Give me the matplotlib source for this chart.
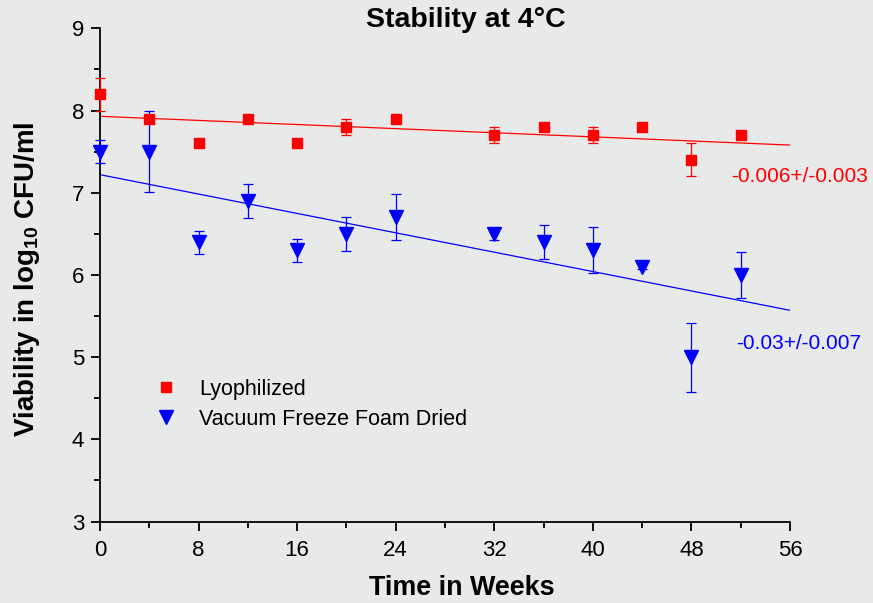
import matplotlib
matplotlib.use("Agg")
import matplotlib.pyplot as plt
from matplotlib.lines import Line2D

## Data
weeks = [0, 4, 8, 12, 16, 20, 24, 32, 36, 40, 44, 48, 52]

lyo_vals = [8.2, 7.9, 7.6, 7.9, 7.6, 7.8, 7.9, 7.7, 7.8, 7.7, 7.8, 7.4, 7.7]
lyo_err = [0.2, 0, 0, 0, 0, 0.1, 0, 0.1, 0, 0.1, 0, 0.2, 0]

vffd_vals = [7.5, 7.5, 6.4, 6.9, 6.3, 6.5, 6.7, 6.5, 6.4, 6.3, 6.1, 5.0, 6.0]
vffd_err = [0.14, 0.49, 0.14, 0.21, 0.14, 0.21, 0.28, 0.07, 0.21, 0.28, 0.03, 0.42, 0.28]

fit_x = [0, 56]
lyo_fit = [7.93, 7.58]
vffd_fit = [7.22, 5.57]

lyo_slope = "-0.006+/-0.003"
vffd_slope = "-0.03+/-0.007"

bg = "#e8e9e9"
red = '#ff0000'
blue = '#0000ff'
plt.rcParams['font.family'] = ['Liberation Sans', 'DejaVu Sans']
plt.rcParams['mathtext.fontset'] = 'custom'
plt.rcParams['mathtext.rm'] = 'Liberation Sans'
plt.rcParams['mathtext.bf'] = 'Liberation Sans:bold'

fig = plt.figure(figsize=(8.73, 6.03), dpi=100, facecolor=bg)
ax = fig.add_axes([0.1145, 0.135, 0.7905, 0.818])
ax.set_facecolor(bg)

## fitted lines
ax.plot(fit_x, lyo_fit, color=red, lw=0.9)
ax.plot(fit_x, vffd_fit, color=blue, lw=0.9)

## data with error bars
ax.errorbar(weeks, lyo_vals, yerr=lyo_err, fmt='s', color=red, ms=7.5,
            elinewidth=0.9, capsize=3.3, capthick=0.9, clip_on=False, zorder=3)
ax.errorbar(weeks, vffd_vals, yerr=vffd_err, fmt='v', color=blue, ms=10,
            elinewidth=0.9, capsize=3.3, capthick=0.9, clip_on=False, zorder=3)

ax.set_xlim(0, 56)
ax.set_ylim(3, 9)
ax.set_xticks(range(0, 57, 8))
ax.set_xticks(range(4, 56, 8), minor=True)
ax.set_yticks(range(3, 10))
ax.set_yticks([3.5, 4.5, 5.5, 6.5, 7.5, 8.5], minor=True)

for s in ['top', 'right']:
    ax.spines[s].set_visible(False)
for s in ['left', 'bottom']:
    ax.spines[s].set_linewidth(1.3)
ax.tick_params(which='major', direction='out', length=6.5, width=1.3, labelsize=16, pad=5)
ax.tick_params(which='minor', direction='out', length=4, width=1.3)
ax.tick_params(axis='x', which='major', pad=7)

## slope annotations
ax.text(51.2, 7.2, lyo_slope, color=red, fontsize=15, va='center', ha='left')
ax.text(51.6, 5.17, vffd_slope, color=blue, fontsize=15, va='center', ha='left')

## titles and labels
fig.text(466 / 873, 1 - 20 / 603, 'Stability at 4°C', fontsize=20.5, fontweight='bold',
         ha='center', va='center')
fig.text(462 / 873, 1 - 588 / 603, 'Time in Weeks', fontsize=19.4, fontweight='bold',
         ha='center', va='center')
fig.text(27 / 873, 1 - 279 / 603, r'Viability in log$_{\mathbf{10}}$ CFU/ml', fontsize=20,
         fontweight='bold', rotation=90, ha='center', va='center')

## legend without error bars
handles = [Line2D([], [], ls='none', marker='s', ms=7.5, color=red),
           Line2D([], [], ls='none', marker='v', ms=10, color=blue)]
ax.legend(handles, ['Lyophilized', 'Vacuum Freeze Foam Dried'], loc='upper left',
          bbox_to_anchor=(155 / 873, 1 - 379 / 603), bbox_transform=fig.transFigure,
          frameon=False, fontsize=15.5, handlelength=1.0, handletextpad=1.05,
          labelspacing=0.4, borderpad=0, borderaxespad=0)

fig.savefig('out.png', dpi=100, facecolor=bg)
